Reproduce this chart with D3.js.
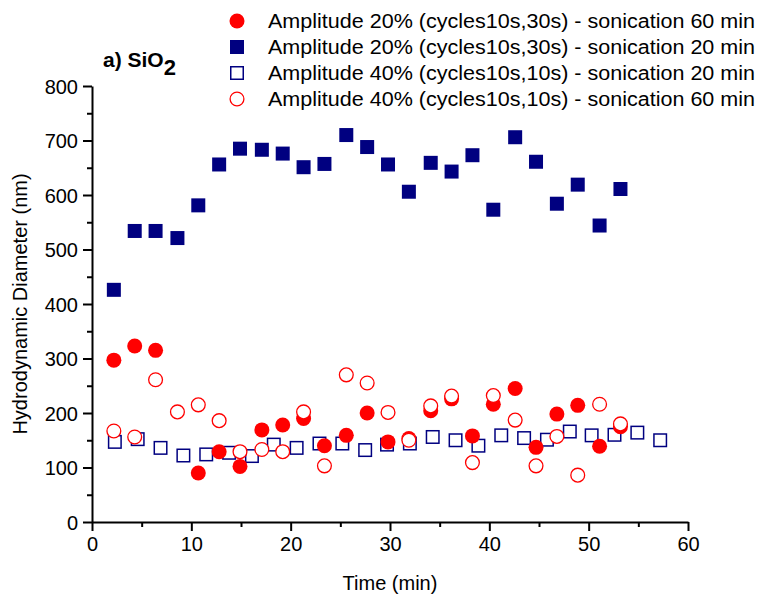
<!DOCTYPE html>
<html>
<head>
<meta charset="utf-8">
<script src="https://cdn.jsdelivr.net/npm/d3@7"></script>
<style>
  html, body { margin: 0; padding: 0; background: #fff; }
  svg { display: block; font-family: "Liberation Sans", Arial, Helvetica, sans-serif; }
</style>
</head>
<body>
<svg id="chart" width="758" height="601"></svg>
<script>
// ---- Data ----
const filledRedX = [2.2, 4.3, 6.4, 10.7, 12.8, 14.9, 17.1, 19.2, 21.3, 23.4, 25.6, 27.7, 29.8, 31.9, 34.1, 36.2, 38.3, 40.4, 42.6, 44.7, 46.8, 48.9, 51.1, 53.2];
const filledRedY = [297, 323, 315, 90, 129, 102, 169, 178, 190, 140, 159, 200, 147, 153, 204, 226, 158, 216, 245, 137, 198, 214, 139, 175];

const filledNavyX = [2.2, 4.3, 6.4, 8.6, 10.7, 12.8, 14.9, 17.1, 19.2, 21.3, 23.4, 25.6, 27.7, 29.8, 31.9, 34.1, 36.2, 38.3, 40.4, 42.6, 44.7, 46.8, 48.9, 51.1, 53.2];
const filledNavyY = [426, 534, 534, 521, 581, 656, 685, 683, 676, 651, 657, 710, 688, 656, 606, 659, 643, 673, 573, 706, 661, 584, 619, 544, 611];

const openNavyX = [2.3, 4.6, 6.9, 9.2, 11.5, 13.8, 16.1, 18.3, 20.6, 22.9, 25.2, 27.5, 29.7, 32.0, 34.3, 36.6, 38.9, 41.2, 43.5, 45.8, 48.1, 50.3, 52.6, 54.9, 57.2];
const openNavyY = [147, 152, 136, 122, 124, 127, 121, 142, 136, 144, 144, 132, 142, 144, 156, 150, 140, 159, 154, 151, 166, 159, 160, 164, 150];

const openRedX = [2.2, 4.3, 6.4, 8.6, 10.7, 12.8, 14.9, 17.1, 19.2, 21.3, 23.4, 25.6, 27.7, 29.8, 31.9, 34.1, 36.2, 38.3, 40.4, 42.6, 44.7, 46.8, 48.9, 51.1, 53.2];
const openRedY = [167, 156, 261, 202, 215, 186, 129, 133, 129, 202, 103, 270, 255, 201, 150, 213, 231, 109, 232, 187, 103, 157, 86, 216, 180];

const legendLabels = [
  "Amplitude 20% (cycles10s,30s) - sonication 60 min",
  "Amplitude 20% (cycles10s,30s) - sonication 20 min",
  "Amplitude 40% (cycles10s,10s) - sonication 20 min",
  "Amplitude 40% (cycles10s,10s) - sonication 60 min"
];
const xTicks = [0, 10, 20, 30, 40, 50, 60];
const yTicks = [0, 100, 200, 300, 400, 500, 600, 700, 800];

// ---- Chart ----
const svg = d3.select("#chart");
const navy = "#000080", red = "#ff0000";

const x = d3.scaleLinear().domain([0, 60]).range([92, 688]);
const y = d3.scaleLinear().domain([0, 800]).range([522, 86]);

// Axes
const xAxis = d3.axisBottom(x).tickValues(xTicks).tickSize(9).tickPadding(6).tickFormat(d3.format("d"));
const xMinor = d3.axisBottom(x).tickValues(d3.range(5, 60, 10)).tickSize(5).tickFormat("");
const yAxis = d3.axisLeft(y).tickValues(yTicks).tickSize(9).tickPadding(5).tickFormat(d3.format("d"));
const yMinor = d3.axisLeft(y).tickValues(d3.range(50, 800, 100)).tickSize(5).tickFormat("");

function styleAxis(g) {
  g.select(".domain").attr("stroke", "#000").attr("stroke-width", 2);
  g.selectAll(".tick line").attr("stroke", "#000").attr("stroke-width", 2);
  g.selectAll(".tick text").attr("fill", "#000").style("font-size", "20px")
    .style("font-family", "'Liberation Sans', Arial, sans-serif");
}
const gxm = svg.append("g").attr("transform", `translate(0,${y(0)})`).call(xMinor); styleAxis(gxm); gxm.select(".domain").remove();
const gym = svg.append("g").attr("transform", `translate(${x(0)},0)`).call(yMinor); styleAxis(gym); gym.select(".domain").remove();
const gx = svg.append("g").attr("transform", `translate(0,${y(0)})`).call(xAxis.tickSizeOuter(0)); styleAxis(gx);
const gy = svg.append("g").attr("transform", `translate(${x(0)},0)`).call(yAxis.tickSizeOuter(0)); styleAxis(gy);
gy.selectAll(".tick text").attr("dy", "0.35em");

// Axis titles
svg.append("text").attr("x", 390).attr("y", 590).attr("text-anchor", "middle")
  .style("font-size", "20px").text("Time (min)");
svg.append("text").attr("transform", `translate(27,${304}) rotate(-90)`).attr("text-anchor", "middle")
  .style("font-size", "20px").text("Hydrodynamic Diameter (nm)");

// Panel title
const title = svg.append("text").attr("x", 103).attr("y", 67).style("font-size", "21px").style("font-weight", "bold");
title.append("tspan").text("a) SiO");
title.append("tspan").attr("dy", 8).style("font-size", "22px").text("2");

// Marks
const sqSize = 14, osqSize = 12.5, r = 7.5;

svg.append("g").selectAll("rect").data(d3.zip(openNavyX, openNavyY)).join("rect")
  .attr("x", d => x(d[0]) - osqSize / 2).attr("y", d => y(d[1]) - osqSize / 2)
  .attr("width", osqSize).attr("height", osqSize)
  .attr("fill", "none").attr("stroke", navy).attr("stroke-width", 1.5);

svg.append("g").selectAll("rect").data(d3.zip(filledNavyX, filledNavyY)).join("rect")
  .attr("x", d => x(d[0]) - sqSize / 2).attr("y", d => y(d[1]) - sqSize / 2)
  .attr("width", sqSize).attr("height", sqSize).attr("fill", navy);

svg.append("g").selectAll("circle").data(d3.zip(filledRedX, filledRedY)).join("circle")
  .attr("cx", d => x(d[0])).attr("cy", d => y(d[1])).attr("r", r).attr("fill", red);

svg.append("g").selectAll("circle").data(d3.zip(openRedX, openRedY)).join("circle")
  .attr("cx", d => x(d[0])).attr("cy", d => y(d[1])).attr("r", r - 0.6)
  .attr("fill", "#fff").attr("stroke", red).attr("stroke-width", 1.3);

// Legend
const legY = [21, 47, 73, 99];
const lg = svg.append("g");
lg.append("circle").attr("cx", 237).attr("cy", legY[0]).attr("r", 7.5).attr("fill", red);
lg.append("rect").attr("x", 237 - 7).attr("y", legY[1] - 7).attr("width", 14).attr("height", 14).attr("fill", navy);
lg.append("rect").attr("x", 237 - 6.25).attr("y", legY[2] - 6.25).attr("width", 12.5).attr("height", 12.5)
  .attr("fill", "none").attr("stroke", navy).attr("stroke-width", 1.5);
lg.append("circle").attr("cx", 237).attr("cy", legY[3]).attr("r", 6.9).attr("fill", "#fff")
  .attr("stroke", red).attr("stroke-width", 1.3);
lg.selectAll("text").data(legendLabels).join("text")
  .attr("x", 268).attr("y", (d, i) => legY[i] + 7)
  .attr("textLength", 487).attr("lengthAdjust", "spacingAndGlyphs")
  .style("font-size", "20px").text(d => d);
</script>
</body>
</html>
